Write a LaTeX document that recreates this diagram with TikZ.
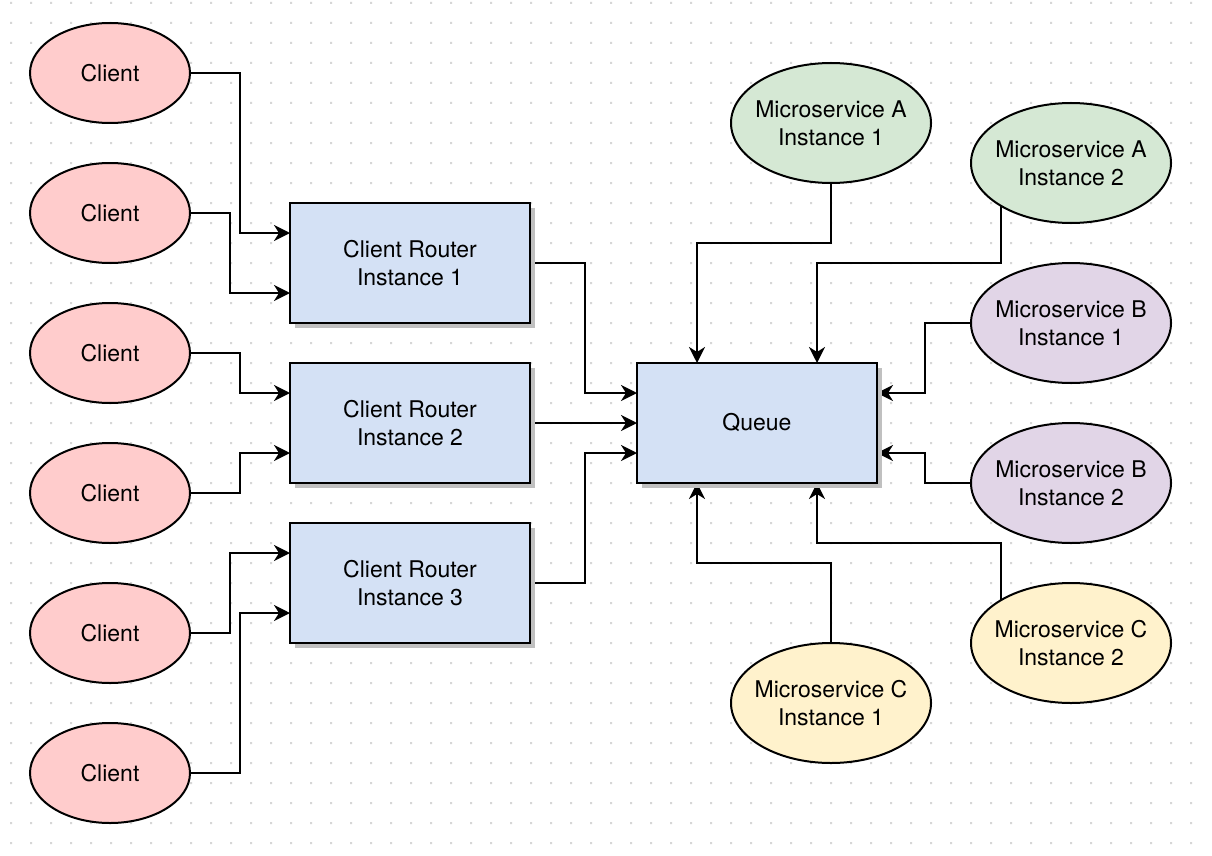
\documentclass[tikz,border=0pt]{standalone}
\usepackage{fontspec}
\setmainfont{TeX Gyre Heros}
\usetikzlibrary{shapes.geometric,arrows.meta,shadows,backgrounds}
\definecolor{clientfill}{HTML}{FFCCCC}
\definecolor{boxfill}{HTML}{D4E1F5}
\definecolor{afill}{HTML}{D5E8D4}
\definecolor{bfill}{HTML}{E1D5E7}
\definecolor{cfill}{HTML}{FFF2CC}
\definecolor{gridgray}{HTML}{D6D6D6}
\definecolor{shadowgray}{HTML}{C0C0C0}
\tikzset{
  txt/.style={font=\fontsize{23}{28}\selectfont, align=center},
  client/.style={ellipse, draw, line width=2pt, fill=clientfill, minimum width=160pt, minimum height=100pt, inner sep=0pt, outer sep=0pt, txt},
  msnode/.style={ellipse, draw, line width=2pt, fill=#1, minimum width=200pt, minimum height=120pt, inner sep=0pt, outer sep=0pt},
  boxnode/.style={rectangle, draw, line width=2.5pt, fill=boxfill, minimum width=240pt, minimum height=120pt, inner sep=0pt, outer sep=0pt, txt,
    drop shadow={shadow xshift=5pt, shadow yshift=-5pt, fill=shadowgray, opacity=1}},
  conn/.style={line width=2.4pt, -{Stealth[length=16pt, width=16pt, inset=5pt]}},
}
\begin{document}
\begin{tikzpicture}[x=1pt,y=-1pt]
\useasboundingbox (0,0) rectangle (1212,856);
\begin{pgfonlayer}{background}
\fill[white] (0,0) rectangle (1212,856);
\fill[gridgray] \foreach \i in {0,...,59} {\foreach \j in {0,...,42} {({10+20*\i},{2+20*\j}) rectangle ++(2,2)}};
\end{pgfonlayer}

% clients
\node[client] (c1) at (110,73) {Client};
\node[client] (c2) at (110,213) {Client};
\node[client] (c3) at (110,353) {Client};
\node[client] (c4) at (110,493) {Client};
\node[client] (c5) at (110,633) {Client};
\node[client] (c6) at (110,773) {Client};

% routers
\node[boxnode] (r1) at (410,263) {Client Router\\Instance 1};
\node[boxnode] (r2) at (410,423) {Client Router\\Instance 2};
\node[boxnode] (r3) at (410,583) {Client Router\\Instance 3};

% queue
\node[boxnode] (q) at (757,423) {Queue};

% microservices
\node[msnode=afill, label={[txt]center:Microservice A\\Instance 1}] (ma1) at (831,123) {};
\node[msnode=afill, label={[txt]center:Microservice A\\Instance 2}] (ma2) at (1071,163) {};
\node[msnode=bfill, label={[txt]center:Microservice B\\Instance 1}] (mb1) at (1071,323) {};
\node[msnode=bfill, label={[txt]center:Microservice B\\Instance 2}] (mb2) at (1071,483) {};
\node[msnode=cfill, label={[txt]center:Microservice C\\Instance 1}] (mc1) at (831,703) {};
\node[msnode=cfill, label={[txt]center:Microservice C\\Instance 2}] (mc2) at (1071,643) {};

\begin{pgfonlayer}{background}
\draw[conn] (c1.east) -- ++(50,0) |- ([yshift=30pt]r1.west);
\draw[conn] (c2.east) -- ++(40,0) |- ([yshift=-30pt]r1.west);
\draw[conn] (c3.east) -- ++(50,0) |- ([yshift=30pt]r2.west);
\draw[conn] (c4.east) -- ++(50,0) |- ([yshift=-30pt]r2.west);
\draw[conn] (c5.east) -- ++(40,0) |- ([yshift=30pt]r3.west);
\draw[conn] (c6.east) -- ++(50,0) |- ([yshift=-30pt]r3.west);

\draw[conn] (r1.east) -- ++(55,0) |- ([yshift=30pt]q.west);
\draw[conn] (r2.east) -- (q.west);
\draw[conn] (r3.east) -- ++(55,0) |- ([yshift=-30pt]q.west);

\draw[conn] (ma1.south) -- ++(0,60) -| ([xshift=-60pt]q.north);
\draw[conn] ([xshift=-70pt]ma2.center) -- ++(0,100) -| ([xshift=60pt]q.north);
\draw[conn] (mb1.west) -- ++(-46,0) |- ([yshift=30pt]q.east);
\draw[conn] (mb2.west) -- ++(-46,0) |- ([yshift=-30pt]q.east);
\draw[conn] (mc1.north) -- ++(0,-80) -| ([xshift=-60pt]q.south);
\draw[conn] ([xshift=-70pt]mc2.center) -- ++(0,-100) -| ([xshift=60pt]q.south);
\end{pgfonlayer}
\end{tikzpicture}
\end{document}
